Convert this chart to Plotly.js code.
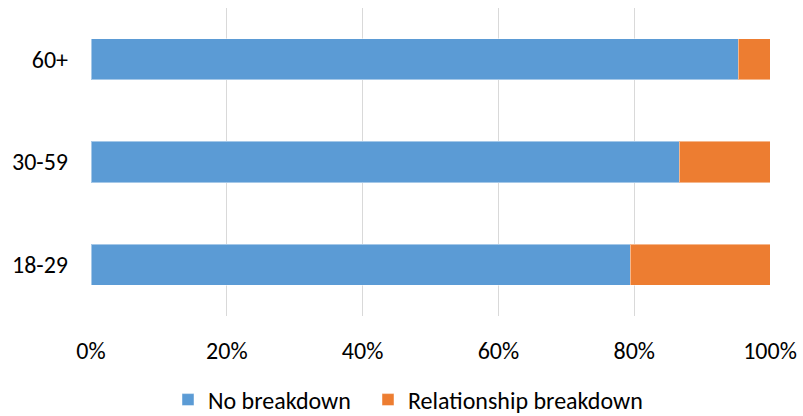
<!DOCTYPE html>
<html><head><meta charset="utf-8">
<script src="https://cdn.plot.ly/plotly-3.0.1.min.js"></script>
<style>body{margin:0;background:#fff}#chart{width:803px;height:416px}</style>
</head><body><div id="chart"></div>
<script>
const categories = ['18-29', '30-59', '60+'];
const noBreakdown = [79.4, 86.6, 95.3];
const relationshipBreakdown = [20.6, 13.4, 4.7];
const seriesNames = ['No breakdown', 'Relationship breakdown'];
const tickVals = [0, 20, 40, 60, 80, 100];
const tickText = ['0%', '20%', '40%', '60%', '80%', '100%'];

const font = "Carlito, Lato, sans-serif";
const traces = [
  {type:'bar', orientation:'h', name:seriesNames[0], y:categories, x:noBreakdown, legend:'legend',
   marker:{color:'#5B9BD5', line:{color:'rgba(255,255,255,0.45)', width:1}}, hoverinfo:'none'},
  {type:'bar', orientation:'h', name:seriesNames[1], y:categories, x:relationshipBreakdown, legend:'legend2',
   marker:{color:'#ED7D31', line:{color:'rgba(255,255,255,0.45)', width:1}}, hoverinfo:'none'}
];
const legFont = {family:font, size:24, color:'#000'};
const layout = {
  width:803, height:416, barmode:'stack', bargap:0.6,
  margin:{l:91, r:33, t:8, b:100, autoexpand:false},
  paper_bgcolor:'#fff', plot_bgcolor:'#fff',
  font:{family:font, size:24, color:'#000'},
  xaxis:{range:[0,100], tickvals:tickVals, ticktext:tickText, showgrid:true, gridcolor:'#D9D9D9', gridwidth:1.3,
         zeroline:false, showline:false, ticks:'', ticklabelstandoff:18, fixedrange:true, automargin:false},
  yaxis:{categoryorder:'array', categoryarray:categories, showgrid:false, zeroline:false, showline:false,
         ticks:'', ticklabelstandoff:22, fixedrange:true, automargin:false},
  showlegend:true,
  legend:{orientation:'h', xref:'container', yref:'container', x:168/803, xanchor:'left', y:16/416, yanchor:'middle',
          font:legFont, itemwidth:30, bgcolor:'rgba(0,0,0,0)'},
  legend2:{orientation:'h', xref:'container', yref:'container', x:368/803, xanchor:'left', y:16/416, yanchor:'middle',
          font:legFont, itemwidth:30, bgcolor:'rgba(0,0,0,0)'}
};
Plotly.newPlot('chart', traces, layout, {staticPlot:true});
</script></body></html>
